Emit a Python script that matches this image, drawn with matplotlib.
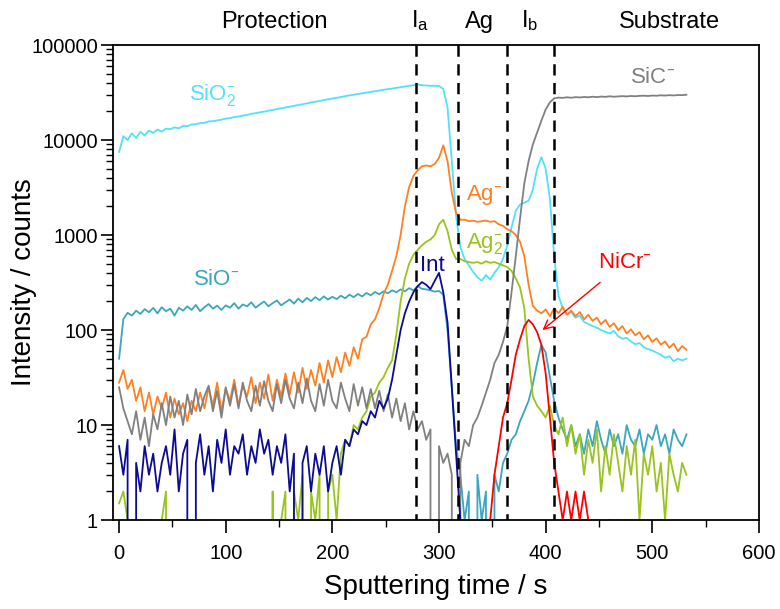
import numpy as np
import matplotlib
matplotlib.use("Agg")
import matplotlib.pyplot as plt
from matplotlib.ticker import MultipleLocator, LogLocator, FuncFormatter
from matplotlib.transforms import blended_transform_factory

plt.rcParams['font.family'] = ['Liberation Sans', 'DejaVu Sans']
plt.rcParams['mathtext.default'] = 'regular'

# sputtering time axis, one sample every 4 s
t = np.arange(0, 533, 4)

sio2 = [7500, 11000, 10000, 11800, 10500, 12200, 11200, 12600, 11900, 12900,
        12300, 13200, 13000, 13600, 13300, 14100, 14000, 14600, 14700, 15100,
        15200, 15700, 15800, 16100, 16400, 16800, 17000, 17500, 17700, 18100,
        18400, 18900, 19200, 19600, 19900, 20400, 20700, 21200, 21600, 22000,
        22400, 22900, 23400, 23800, 24300, 24900, 25300, 25800, 26400, 26800,
        27400, 27800, 28400, 29000, 29500, 30000, 30500, 31100, 31600, 32200,
        32600, 33200, 33800, 34300, 34900, 35400, 36000, 36700, 37200, 37800,
        38500, 37800, 37500, 37200, 37300, 37000, 34500, 22000, 6000, 1600,
        750, 560, 480, 410, 360, 330, 380, 340, 400, 460,
        560, 780, 1200, 1800, 2100, 2200, 2300, 3000, 5000, 6600,
        5000, 2400, 600, 230, 170, 145, 155, 135, 142, 122,
        116, 110, 106, 100, 96, 92, 98, 86, 81, 83,
        76, 71, 73, 66, 63, 61, 58, 55, 51, 53,
        47, 50, 48, 50]

sio = [50, 130, 152, 142, 160, 148, 166, 154, 171, 150,
       174, 158, 168, 142, 172, 160, 178, 163, 184, 158,
       174, 188, 168, 181, 163, 182, 172, 192, 168, 186,
       178, 196, 172, 186, 200, 178, 192, 205, 182, 196,
       210, 190, 214, 196, 218, 202, 222, 206, 226, 210,
       224, 212, 230, 216, 236, 222, 240, 226, 246, 232,
       252, 238, 256, 244, 262, 250, 268, 256, 276, 262,
       290, 272, 268, 262, 254, 258, 236, 100, 25, 6,
       3, 1, 2, 0, 3, 1, 2, 0, 3, 2,
       4, 5, 7, 8, 11, 14, 18, 27, 45, 70,
       58, 32, 18, 12, 9, 7, 10, 6, 8, 5,
       9, 6, 11, 7, 5, 9, 6, 8, 5, 10,
       7, 6, 9, 5, 8, 7, 10, 6, 8, 5,
       9, 7, 6, 8]

ag = [28, 38, 24, 30, 18, 25, 14, 22, 13, 20,
      15, 22, 12, 19, 13, 17, 11, 18, 14, 22,
      15, 25, 16, 28, 14, 24, 18, 30, 16, 26,
      20, 32, 17, 28, 19, 34, 18, 30, 20, 35,
      21, 36, 22, 40, 24, 38, 26, 45, 28, 48,
      32, 52, 36, 58, 42, 66, 50, 80, 85, 115,
      130, 170, 240, 300, 420, 600, 1000, 2000, 3200, 4200,
      4800, 5300, 5400, 5300, 5600, 6500, 8800, 6000, 2800, 1700,
      1450, 1450, 1400, 1420, 1380, 1400, 1420, 1380, 1400, 1300,
      1250, 1150, 1100, 1000, 850, 600, 300, 180, 160, 150,
      165, 140, 170, 150, 175, 145, 160, 140, 155, 130,
      145, 125, 135, 115, 128, 108, 118, 100, 110, 92,
      102, 88, 95, 80, 88, 75, 82, 70, 76, 65,
      72, 60, 68, 62]

ag2 = [1.5, 2, 1, 0, 1, 0, 0, 1, 0, 0,
       1, 2, 0, 0, 0, 1, 0, 0, 0, 0,
       0, 0, 1, 0, 0, 0, 0, 0, 0, 0,
       0, 1, 0, 1, 0, 0, 2, 0, 1, 2,
       0, 2, 1, 3, 0, 2, 1, 3, 0, 2,
       3, 1, 5, 7, 6, 10, 9, 12, 14, 20,
       22, 28, 32, 40, 48, 90, 200, 350, 500, 620,
       700, 780, 850, 900, 1000, 1300, 1450, 1100, 700, 560,
       560, 530, 520, 510, 520, 500, 530, 510, 520, 500,
       480, 460, 420, 350, 280, 170, 50, 20, 16, 14,
       12, 16, 10, 8, 12, 6, 10, 5, 8, 3,
       7, 4, 9, 2, 6, 3, 8, 4, 2, 6,
       3, 7, 1, 5, 3, 6, 2, 4, 1, 5,
       3, 2, 4, 3]

# Int only recorded up to 320 s
intn = [6, 3, 7, 0, 4, 2, 6, 3, 5, 2,
        4, 6, 3, 9, 2, 5, 7, 0, 4, 8,
        3, 6, 2, 7, 4, 9, 3, 6, 5, 8,
        3, 6, 4, 9, 5, 7, 3, 6, 4, 8,
        2, 5, 0, 4, 6, 2, 5, 3, 6, 2,
        4, 6, 3, 7, 6, 9, 8, 11, 10, 14,
        12, 18, 15, 19, 30, 55, 100, 150, 200, 250,
        290, 320, 300, 270, 330, 400, 250, 120, 25, 5,
        1]

sic = [25, 15, 11, 8, 14, 7, 12, 6, 13, 9,
       17, 10, 20, 12, 18, 10, 21, 13, 24, 14,
       20, 26, 14, 23, 12, 25, 16, 27, 15, 28,
       18, 14, 26, 16, 29, 18, 14, 27, 17, 30,
       19, 15, 28, 17, 31, 18, 14, 27, 16, 30,
       18, 15, 28, 19, 14, 27, 16, 25, 15, 24,
       15, 23, 14, 21, 12, 19, 11, 17, 9, 14,
       9, 11, 7, 9, 0, 6, 4, 5, 3, 0,
       4, 7, 6, 10, 12, 16, 22, 30, 45, 55,
       75, 110, 250, 600, 1500, 3500, 6000, 9000, 12000, 16000,
       21000, 25000, 27500, 28000, 27800, 28200, 27900, 28300, 28100, 28400,
       28200, 28600, 28300, 28700, 28500, 28900, 28600, 28800, 29000, 28800,
       29100, 28900, 29200, 29300, 29100, 29400, 29300, 29600, 29400, 29700,
       29500, 29800, 29700, 30000]

# NiCr from 340 s to 480 s
nicr = [0, 0, 1, 3, 6, 12, 17, 30, 55, 80,
        110, 128, 115, 95, 70, 35, 12, 4, 2, 1,
        2, 1, 2, 1, 2, 1, 0, 1, 0, 0,
        1, 0, 1, 0, 1, 0]
nicr_start = 85

borders = [278, 318, 364, 408]
regions = ['Protection', 'I$_a$', 'Ag', 'I$_b$', 'Substrate']
region_x = [146, 282, 338, 385, 516]

c_sio2 = '#52E1FA'
c_sio = '#3AA6BF'
c_ag = '#FF8022'
c_ag2 = '#99C41C'
c_int = '#0A0A96'
c_sic = '#808080'
c_nicr = '#FF0000'

fig = plt.figure(figsize=(7.8, 6.09), dpi=100)
ax = fig.add_axes([0.145, 0.146, 0.828, 0.78])

lw = 1.3
ax.plot(t, sio2, color=c_sio2, lw=lw)
ax.plot(t, sio, color=c_sio, lw=lw)
ax.plot(t, ag2, color=c_ag2, lw=lw)
ax.plot(t, ag, color=c_ag, lw=lw)
ax.plot(t, sic, color=c_sic, lw=lw)
ax.plot(t[:len(intn)], intn, color=c_int, lw=lw)
ax.plot(t[nicr_start:nicr_start + len(nicr)], nicr, color=c_nicr, lw=lw)

ax.set_yscale('log', nonpositive='clip')
ax.set_xlim(-5.6, 600)
ax.set_ylim(1, 100000)

for b in borders:
    ax.plot([b, b], [100000, 1], color='black', lw=1.8, dashes=(4.5, 3), zorder=5)

trans = blended_transform_factory(ax.transData, ax.transAxes)
for name, xr in zip(regions, region_x):
    ax.text(xr, 1.025, name, transform=trans, ha='center', va='bottom', fontsize=17)

fs = 16
mn = '$^{\u2013}$'
ax.text(66, 29600, 'SiO$_2^{\u2013}$', color=c_sio2, fontsize=fs, va='center')
ax.text(479, 46000, 'SiC' + mn, color=c_sic, fontsize=fs, va='center')
ax.text(325, 2650, 'Ag' + mn, color=c_ag, fontsize=fs, va='center')
ax.text(325, 824, 'Ag$_2^{\u2013}$', color=c_ag2, fontsize=fs, va='center')
ax.text(282, 483, 'Int', color=c_int, fontsize=fs, va='center')
ax.text(69, 344, 'SiO' + mn, color=c_sio, fontsize=fs, va='center')
ax.annotate('NiCr' + mn, xy=(397, 100), xytext=(449, 520), color=c_nicr,
            fontsize=fs, va='center',
            arrowprops=dict(arrowstyle='->', color=c_nicr, lw=1,
                            shrinkA=8, shrinkB=0))

ax.xaxis.set_major_locator(MultipleLocator(100))
ax.xaxis.set_minor_locator(MultipleLocator(50))
ax.yaxis.set_major_locator(LogLocator(base=10, numticks=10))
ax.yaxis.set_minor_locator(LogLocator(base=10, subs=np.arange(2, 10), numticks=20))
ax.yaxis.set_major_formatter(FuncFormatter(lambda v, p: f'{int(round(v))}'))
ax.tick_params(which='major', direction='out', length=9, width=1.2,
               labelsize=14.5, pad=2, top=False, right=False)
ax.tick_params(axis='x', which='major', pad=8)
ax.tick_params(which='minor', direction='out', length=5, width=1,
               top=False, right=False)
for s in ax.spines.values():
    s.set_linewidth(1.3)

ax.set_xlabel('Sputtering time / s', fontsize=20, labelpad=8)
ax.set_ylabel('Intensity / counts', fontsize=20, labelpad=-4)

fig.savefig('out.png', dpi=100)
